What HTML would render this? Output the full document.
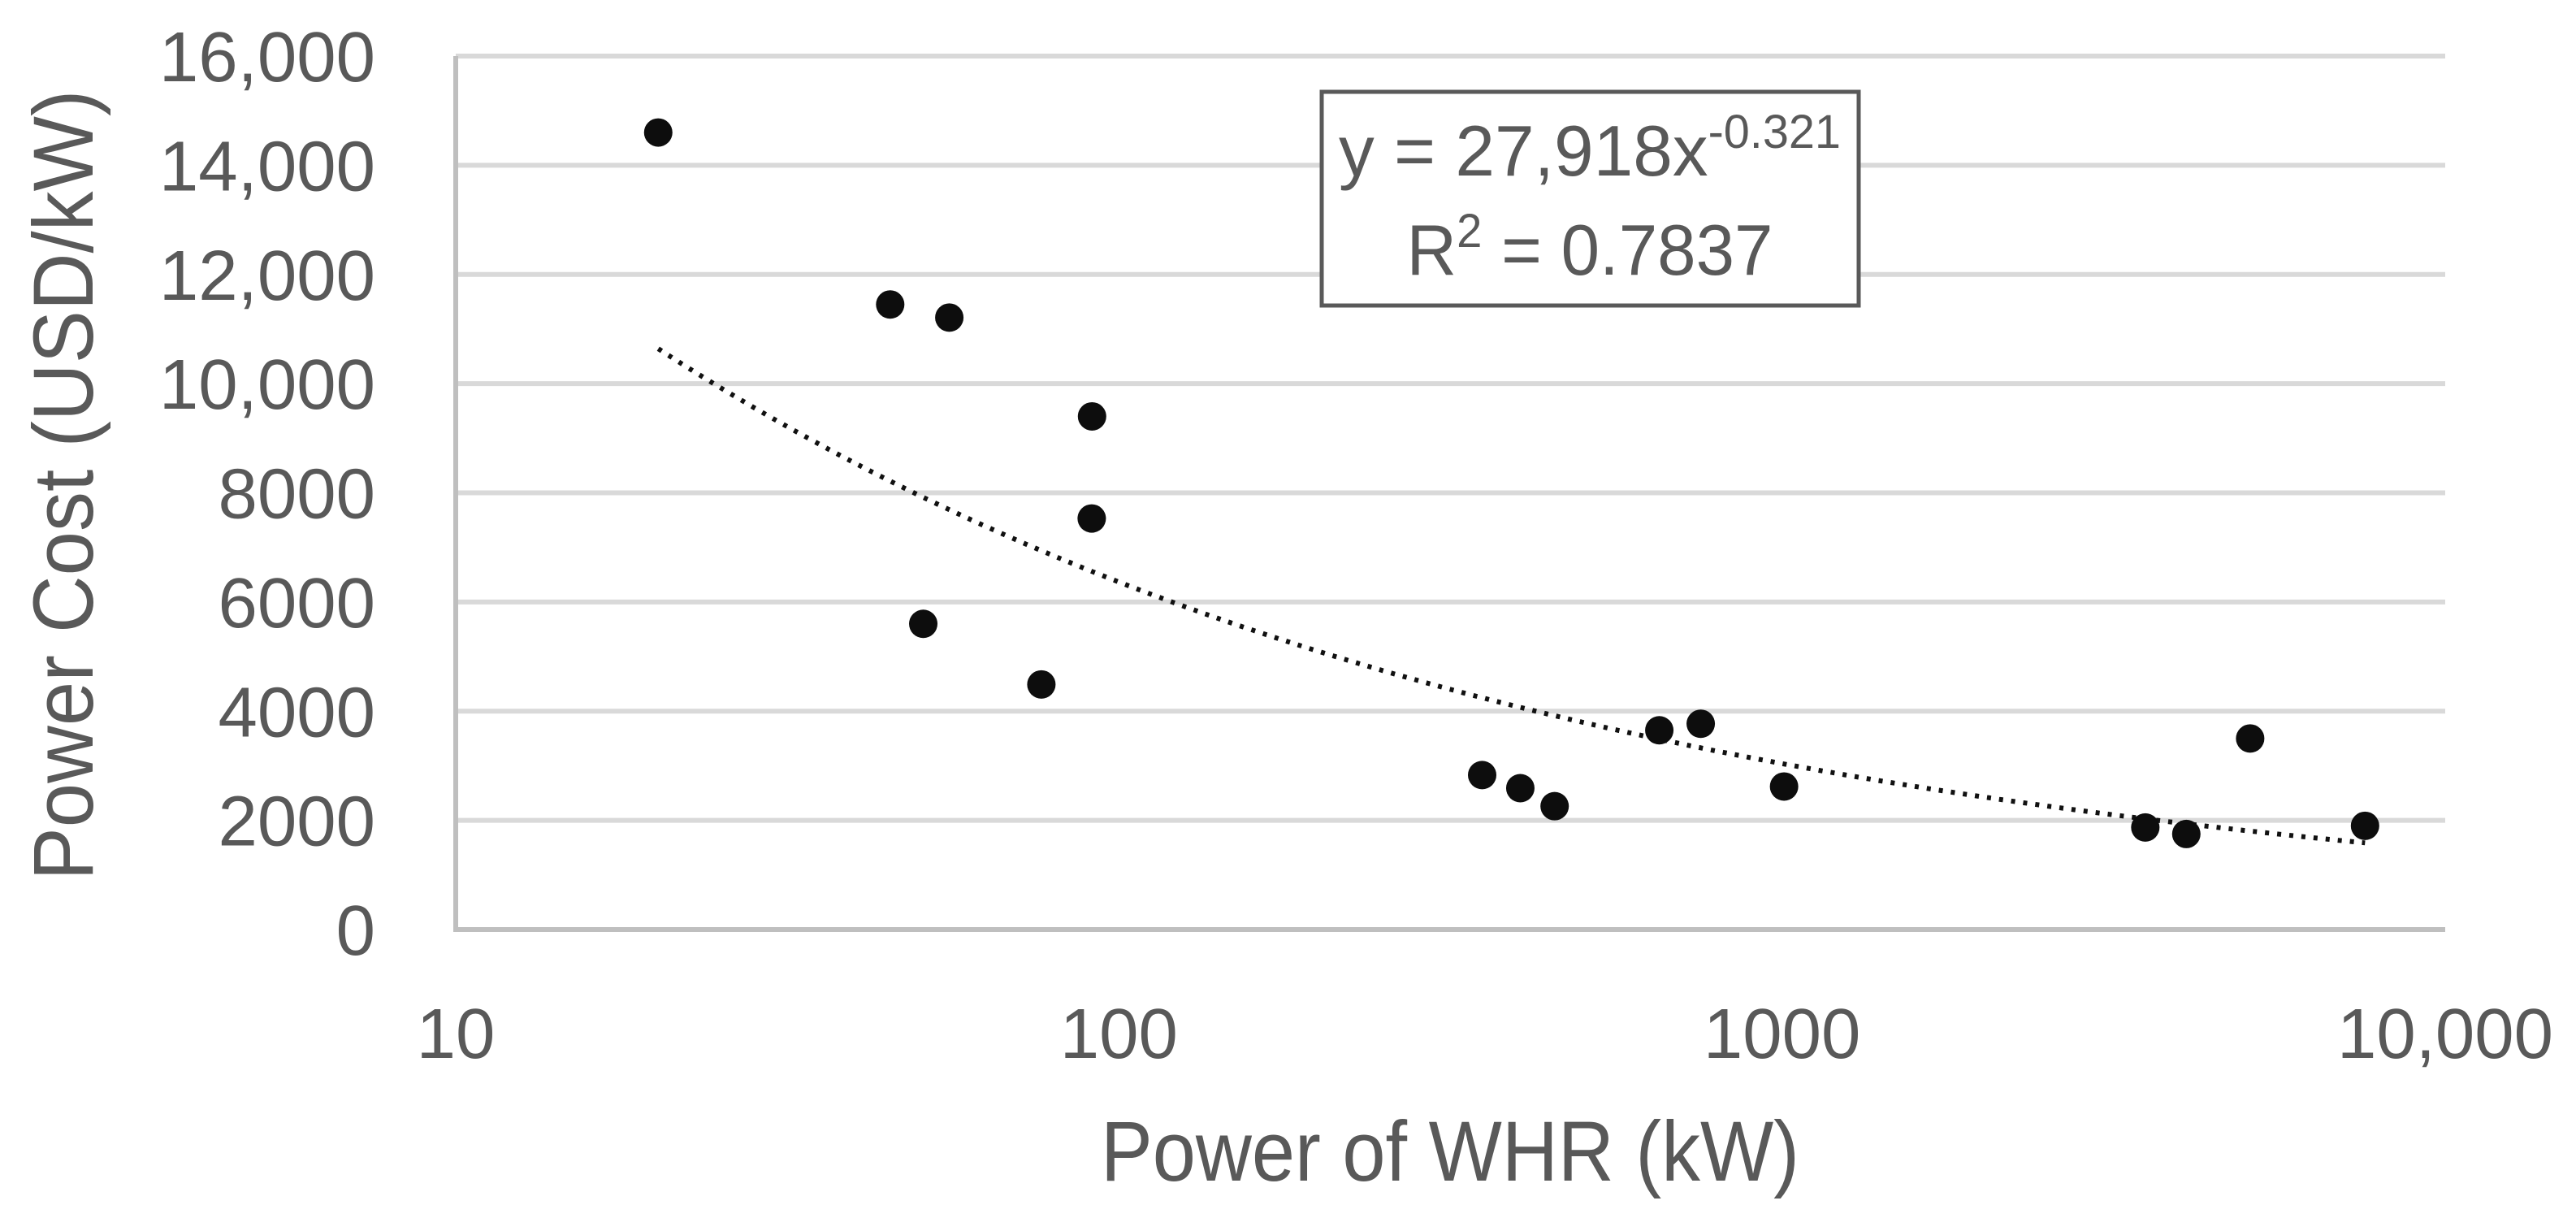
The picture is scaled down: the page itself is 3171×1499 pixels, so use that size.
<!DOCTYPE html>
<html><head><meta charset="utf-8"><style>html,body{margin:0;padding:0;background:#fff}svg{display:block}</style></head>
<body>
<svg id="chart" width="3171" height="1499" viewBox="0 0 3171 1499" xmlns="http://www.w3.org/2000/svg" font-family="Liberation Sans, sans-serif">
<rect width="3171" height="1499" fill="#fff"/>
<g id="grid"></g>
<g id="yticks"></g>
<g id="xticks"></g>
<g id="axes"></g>
<path id="trend" fill="none" stroke="#111" stroke-width="6" stroke-dasharray="5 10"/>
<g id="points"></g>
<g>
<rect x="1627" y="113" width="661" height="263" fill="#fff" stroke="#595959" stroke-width="5"/>
<text x="1957" y="216" font-size="88" fill="#595959" text-anchor="middle" textLength="618" lengthAdjust="spacingAndGlyphs">y = 27,918x<tspan dy="-34" font-size="58">-0.321</tspan></text>
<text x="1957" y="338" font-size="88" fill="#595959" text-anchor="middle" textLength="451" lengthAdjust="spacingAndGlyphs">R<tspan dy="-34" font-size="58">2</tspan><tspan dy="34"> = 0.7837</tspan></text>
</g>
<text x="1785" y="1453" font-size="105" fill="#595959" text-anchor="middle" textLength="860" lengthAdjust="spacingAndGlyphs">Power of WHR (kW)</text>
<text transform="translate(114,597) rotate(-90)" font-size="105" fill="#595959" text-anchor="middle" textLength="973" lengthAdjust="spacingAndGlyphs">Power Cost (USD/kW)</text>
</svg>
<script>
const xValues = [20.2, 45.2, 55.5, 91.1, 91, 50.7, 76.4, 353, 403, 454, 653, 754, 1007, 3530, 4070, 5080, 7570];
const yValues = [14600, 11450, 11210, 9400, 7530, 5600, 4490, 2830, 2590, 2260, 3650, 3770, 2620, 1870, 1750, 3500, 1900];
const yTicks = [0, 2000, 4000, 6000, 8000, 10000, 12000, 14000, 16000];
const yTickLabels = ["0", "2000", "4000", "6000", "8000", "10,000", "12,000", "14,000", "16,000"];
const xTicks = [10, 100, 1000, 10000];
const xTickLabels = ["10", "100", "1000", "10,000"];
const trendCoef = 27918;
const trendExp = -0.321;
const trendRange = [20.2, 7570];

const NS = "http://www.w3.org/2000/svg";
const X0 = 561, X1 = 3010, Y0 = 1144, Y1 = 69;
function xScale(v){ return X0 + (Math.log10(v) - 1) / 3 * (X1 - X0); }
function yScale(v){ return Y0 - v / 16000 * (Y0 - Y1); }
function mk(tag, attrs, parent){ const e = document.createElementNS(NS, tag); for (const k in attrs) e.setAttribute(k, attrs[k]); parent.appendChild(e); return e; }

const grid = document.getElementById('grid');
const yt = document.getElementById('yticks');
yTicks.forEach((t, i) => {
  if (t > 0) {
    const l = mk('line', {x1: X0, x2: X1, y1: yScale(t), y2: yScale(t), stroke: '#d9d9d9', 'stroke-width': 6}, grid);
    
    
  }
  const tx = mk('text', {x: 462, y: yScale(t) + 31, 'font-size': 87, fill: '#595959', 'text-anchor': 'end'}, yt);
  tx.textContent = yTickLabels[i];
  
  
});
const xt = document.getElementById('xticks');
xTicks.forEach((t, i) => {
  const tx = mk('text', {x: xScale(t), y: 1302, 'font-size': 87, fill: '#595959', 'text-anchor': 'middle'}, xt);
  tx.textContent = xTickLabels[i];
  
  
});
const axes = document.getElementById('axes');
const ya = mk('line', {x1: X0, x2: X0, y1: Y1, y2: Y0 + 2, stroke: '#bfbfbf', 'stroke-width': 6}, axes);


const xa = mk('line', {x1: X0 - 3, x2: X1, y1: Y0, y2: Y0, stroke: '#bfbfbf', 'stroke-width': 6}, axes);



let d = '';
const lo = Math.log10(trendRange[0]), hi = Math.log10(trendRange[1]);
for (let i = 0; i <= 200; i++) {
  const xv = Math.pow(10, lo + (hi - lo) * i / 200);
  const yv = trendCoef * Math.pow(xv, trendExp);
  d += (i ? 'L' : 'M') + xScale(xv).toFixed(1) + ' ' + yScale(yv).toFixed(1);
}
document.getElementById('trend').setAttribute('d', d);

const pts = document.getElementById('points');
xValues.forEach((xv, i) => {
  const c = mk('ellipse', {cx: xScale(xv), cy: yScale(yValues[i]), rx: 17.5, ry: 17.5, fill: '#0d0d0d'}, pts);
  
  
});
</script>
</body></html>
